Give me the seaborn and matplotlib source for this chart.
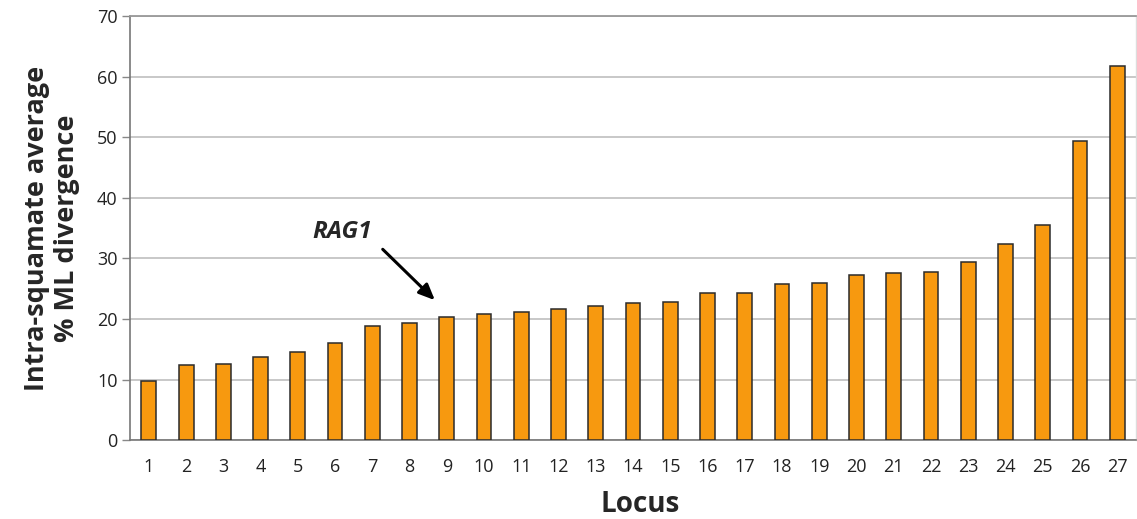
import matplotlib
matplotlib.use("Agg")
import matplotlib.pyplot as plt
import seaborn as sns
import pandas as pd

loci = [str(i) for i in range(1, 28)]
divergence = [9.7, 12.4, 12.5, 13.75, 14.5, 16.1, 18.8, 19.4, 20.4, 20.9,
              21.1, 21.7, 22.2, 22.6, 22.8, 24.3, 24.3, 25.75, 25.9, 27.3,
              27.6, 27.7, 29.4, 32.3, 35.5, 49.4, 61.7]
yticks = [0, 10, 20, 30, 40, 50, 60, 70]

sns.set_theme(style="white")
plt.rcParams['font.family'] = ['Open Sans', 'DejaVu Sans']

df = pd.DataFrame({"Locus": loci, "div": divergence})

fig = plt.figure(figsize=(11.37, 5.19), dpi=100)
ax = fig.add_axes([0.1145, 0.152, 0.8845, 0.817])

sns.barplot(data=df, x="Locus", y="div", color="#F7990F", width=0.4,
            edgecolor="#2b2b2b", linewidth=1.1, saturation=1, ax=ax, zorder=3)

ax.set_ylim(0, 70)
ax.set_xlim(-0.5, 26.5)
ax.set_yticks(yticks)
ax.set_yticklabels([str(t) for t in yticks], fontsize=13, color="#222222")
ax.yaxis.grid(True, color="#c4c4c4", linewidth=1.3, zorder=0)
ax.set_axisbelow(True)

# tick marks at category boundaries
ax.set_xticks(range(27))
ax.set_xticklabels(loci, fontsize=13, color="#222222")
ax.tick_params(axis="x", length=0, pad=13)
ax.set_xticks([i - 0.5 for i in range(28)], minor=True)
ax.tick_params(axis="x", which="minor", length=6, color="#888888", width=1)
ax.tick_params(axis="y", length=6, color="#888888", width=1, pad=3, left=True)

for side in ["left", "bottom"]:
    ax.spines[side].set_color("#777777")
    ax.spines[side].set_linewidth(1.2)
ax.spines["top"].set_color("#999999")
ax.spines["top"].set_linewidth(1.3)
ax.spines["right"].set_color("#dddddd")
ax.spines["right"].set_linewidth(1.0)

ax.set_xlabel("Locus", fontsize=20, fontweight="bold", labelpad=10)
ax.xaxis.label.set_x(0.507)
ax.set_ylabel("Intra-squamate average\n% ML divergence", fontsize=19.5,
              fontweight="bold", labelpad=12, linespacing=1.2)

ax.text(5.2, 34.4, "RAG1", fontsize=17.5, fontweight="bold", fontstyle="italic",
        ha="center", va="center")
ax.annotate("", xy=(7.68, 23.1), xytext=(6.28, 31.5),
            arrowprops=dict(arrowstyle="-|>,head_length=0.8,head_width=0.35",
                            color="black", lw=2.2, shrinkA=0, shrinkB=0))

fig.savefig("out.png", dpi=100)
